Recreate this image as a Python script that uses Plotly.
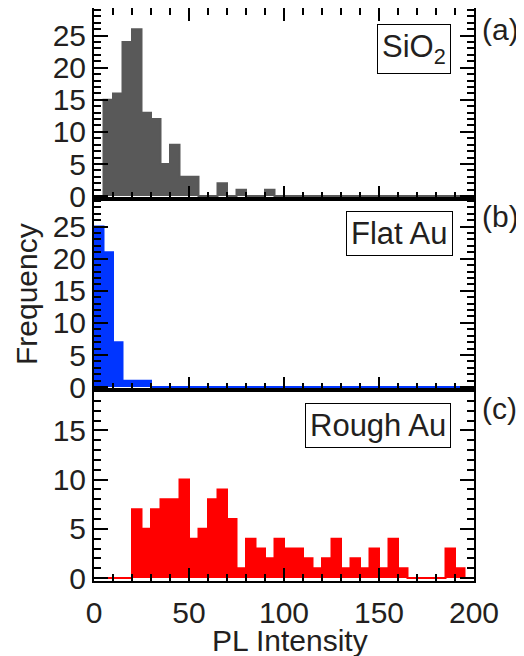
import plotly.graph_objects as go
from plotly.subplots import make_subplots

# ---- data (histograms, bin width 5 from 0 to 200) ----
bin_edges = list(range(0, 205, 5))

sio2_counts = [0, 15, 16, 24, 26, 13, 12, 5, 8, 3,
               3, 0, 0, 2, 0, 1, 0, 0, 1, 0,
               0, 0, 0, 0, 0, 0, 0, 0, 0, 0,
               0, 0, 0, 0, 0, 0, 0, 0, 0, 0]
flat_counts = [25, 21, 7, 1, 1, 1, 0, 0, 0, 0,
               0, 0, 0, 0, 0, 0, 0, 0, 0, 0,
               0, 0, 0, 0, 0, 0, 0, 0, 0, 0,
               0, 0, 0, 0, 0, 0, 0, 0, 0, 0]
rough_counts = [0, 0, 0, 0, 7, 5, 7, 8, 8, 10,
                4, 5, 8, 9, 6, 1, 4, 3, 2, 4,
                3, 3, 2, 1, 2, 4, 1, 2, 1, 3,
                1, 4, 1, 0, 0, 0, 0, 3, 1, 0]

panel_names = ["SiO<sub>2</sub>", "Flat Au", "Rough Au"]
panel_tags = ["(a)", "(b)", "(c)"]
colors = ["#595959", "#0035ff", "#ff0000"]
y_ticks_top = [0, 5, 10, 15, 20, 25]
y_ticks_bottom = [0, 5, 10, 15]
x_ticks = [0, 50, 100, 150, 200]

TXT = "#231f20"
FONT = "Liberation Sans, Arial, Helvetica, sans-serif"

fig = make_subplots(rows=3, cols=1, shared_xaxes=False, vertical_spacing=0)

for i, counts in enumerate([sio2_counts, flat_counts, rough_counts]):
    fig.add_trace(go.Scatter(
        x=bin_edges, y=counts + [counts[-1]],
        mode="lines", line=dict(shape="hv", color=colors[i], width=2),
        fill="tozeroy", fillcolor=colors[i], showlegend=False,
        hoverinfo="skip"), row=i + 1, col=1)

axis_common = dict(showline=True, linewidth=2, linecolor="black",
                   ticks="inside", tickwidth=2, tickcolor="black",
                   showgrid=False, zeroline=False, automargin=False,
                   tickfont=dict(size=30, color=TXT, family=FONT))

for i in range(3):
    fig.update_xaxes(**axis_common, range=[0, 200], tickvals=x_ticks,
                     ticklen=13, ticklabelstandoff=4,
                     minor=dict(dtick=10, ticklen=7, tickwidth=2,
                                ticks="inside", tickcolor="black"),
                     mirror="ticks" if i == 0 else True,
                     showticklabels=(i == 2), row=i + 1, col=1)
    if i < 2:
        yr = [-0.45, 29.3]
        tv = y_ticks_top
    else:
        yr = [-0.3, 19.1]
        tv = y_ticks_bottom
    fig.update_yaxes(**axis_common, range=yr, tickvals=tv, ticklen=14,
                     minor=dict(dtick=1, ticklen=7, tickwidth=2,
                                ticks="inside", tickcolor="black"),
                     mirror="ticks", row=i + 1, col=1)

# target plot area in page pixels: x 94..474, y 8..581
# the page body has an 8 px margin, so the figure is placed at (8, 8)
OFF = 8
L, R, T, B = 94, 474, 8, 581
PAGE_W, PAGE_H = 524, 656
W, H = PAGE_W - OFF, PAGE_H - OFF


def px(x):
    return (x - L) / (R - L)


def py(y):
    return (B - y) / (B - T)


box_pos = [(451, 24), (453, 211), (451, 403)]
tag_y = [30, 216, 408]
annotations = []
for i in range(3):
    bx, by = box_pos[i]
    annotations.append(dict(
        text=panel_names[i], xref="paper", yref="paper",
        x=px(bx), y=py(by), xanchor="right", yanchor="top",
        showarrow=False, bordercolor="black", borderwidth=1, borderpad=4,
        bgcolor="white", font=dict(size=31, color=TXT, family=FONT)))
    annotations.append(dict(
        text=panel_tags[i], xref="paper", yref="paper",
        x=px(480), y=py(tag_y[i]), xanchor="left", yanchor="middle",
        showarrow=False, font=dict(size=30, color=TXT, family=FONT)))

annotations.append(dict(
    text="Frequency", xref="paper", yref="paper",
    x=px(26), y=py(294), xanchor="center", yanchor="middle",
    textangle=-90, showarrow=False,
    font=dict(size=30, color=TXT, family=FONT)))
annotations.append(dict(
    text="PL Intensity", xref="paper", yref="paper",
    x=px(290), y=py(640), xanchor="center", yanchor="middle",
    showarrow=False, font=dict(size=30, color=TXT, family=FONT)))

fig.update_layout(
    width=W, height=H,
    margin=dict(l=L - OFF, r=PAGE_W - R, t=T - OFF, b=PAGE_H - B),
    plot_bgcolor="white", paper_bgcolor="white",
    annotations=annotations,
    font=dict(family=FONT, color=TXT),
)

fig.write_html("out.html")
